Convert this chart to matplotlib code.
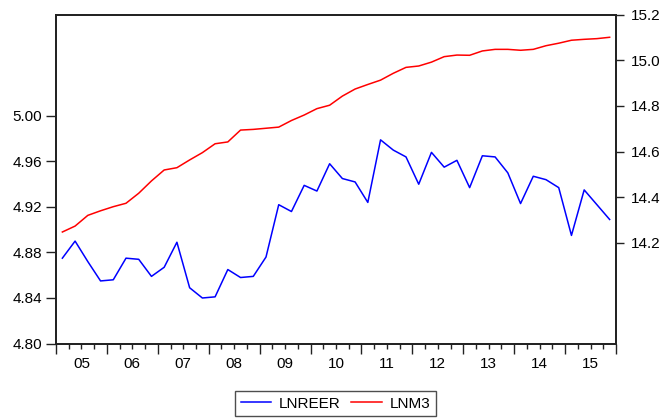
import matplotlib
matplotlib.use('Agg')
import numpy as np
import matplotlib.pyplot as plt
from matplotlib.ticker import MultipleLocator, FixedLocator, FuncFormatter

# quarterly data 2005Q1 .. 2015Q4
years = ['05', '06', '07', '08', '09', '10', '11', '12', '13', '14', '15']
start_year = 2005

lnreer = [4.875, 4.890, 4.872, 4.855, 4.856, 4.875, 4.874, 4.859,
          4.867, 4.889, 4.849, 4.840, 4.841, 4.865, 4.858, 4.859,
          4.876, 4.922, 4.916, 4.939, 4.934, 4.958, 4.945, 4.942,
          4.924, 4.979, 4.970, 4.964, 4.940, 4.968, 4.955, 4.961,
          4.937, 4.965, 4.964, 4.950, 4.923, 4.947, 4.944, 4.937,
          4.895, 4.935, 4.922, 4.909]

lnm3 = [14.247, 14.273, 14.320, 14.340, 14.358, 14.373, 14.417, 14.471,
        14.519, 14.529, 14.563, 14.595, 14.634, 14.642, 14.694, 14.697,
        14.702, 14.707, 14.736, 14.760, 14.788, 14.803, 14.843, 14.874,
        14.894, 14.913, 14.943, 14.969, 14.975, 14.992, 15.016, 15.023,
        15.022, 15.041, 15.048, 15.048, 15.044, 15.048, 15.064, 15.075,
        15.088, 15.092, 15.095, 15.101]

left_ticks = [4.80, 4.84, 4.88, 4.92, 4.96, 5.00]
right_ticks = [14.2, 14.4, 14.6, 14.8, 15.0, 15.2]

x = start_year + (np.arange(len(lnreer)) + 0.5) / 4.0

plt.rcParams['font.family'] = ['Liberation Sans', 'DejaVu Sans']

fig = plt.figure(figsize=(6.61, 4.19), dpi=100)
ax = fig.add_axes([56/661, 1 - 343.5/419, 560/661, (343.5 - 14.7)/419])
ax2 = ax.twinx()

l1, = ax.plot(x, lnreer, color='#0000FF', lw=1.1, label='LNREER')
l2, = ax2.plot(x, lnm3, color='#FF0000', lw=1.1, label='LNM3')

ax.set_xlim(start_year, start_year + len(years))
ax.set_ylim(4.80, 5.089)
ax2.set_ylim(13.758, 15.2)

ax.set_yticks(left_ticks)
ax.yaxis.set_major_formatter(FuncFormatter(lambda v, p: '%.2f' % v))
ax2.set_yticks(right_ticks)
ax2.yaxis.set_major_formatter(FuncFormatter(lambda v, p: '%.1f' % v))

# year boundaries as long ticks, quarters as short ones, year names in the middle
ax.xaxis.set_major_locator(MultipleLocator(1))
ax.xaxis.set_major_formatter(FuncFormatter(lambda v, p: ''))
ax.xaxis.set_minor_locator(FixedLocator(start_year + np.arange(1, 4 * len(years)) / 4.0))

def year_label(v, p):
    frac = v - np.floor(v)
    if abs(frac - 0.5) < 1e-6:
        i = int(np.floor(v)) - start_year
        if 0 <= i < len(years):
            return years[i]
    return ''

ax.xaxis.set_minor_formatter(FuncFormatter(year_label))

ax.tick_params(axis='x', which='major', length=7, width=1, direction='out', color='#222222')
ax.tick_params(axis='x', which='minor', length=3.5, width=1, direction='out', color='#222222',
               labelsize=11, pad=6)
ax.tick_params(axis='y', length=7, width=1, direction='out', labelsize=11, pad=3, color='#222222')
ax2.tick_params(axis='y', length=6, width=1, direction='out', labelsize=11, pad=5, color='#222222')

for a in (ax, ax2):
    for s in a.spines.values():
        s.set_color('#222222')
        s.set_linewidth(1.3)

leg = fig.legend(handles=[l1, l2], loc='center', bbox_to_anchor=(335.5/661, 1 - 403.5/419),
                 ncol=2, frameon=True, fancybox=False, fontsize=11, handlelength=2.0,
                 columnspacing=0.7, handletextpad=0.5, borderpad=0.35, borderaxespad=0)
leg.get_frame().set_edgecolor('#222222')
leg.get_frame().set_linewidth(1.0)

fig.savefig('out.png', dpi=100)
